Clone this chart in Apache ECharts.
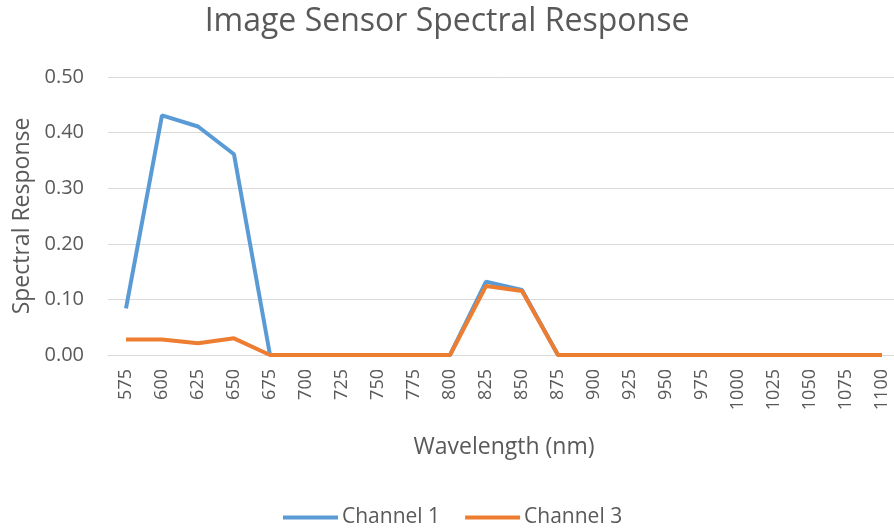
<!DOCTYPE html>
<html>
<head>
<meta charset="utf-8">
<script src="https://cdn.jsdelivr.net/npm/echarts@6/dist/echarts.min.js"></script>
<style>html,body{margin:0;padding:0;background:#fff}#c{width:894px;height:529px}</style>
</head>
<body>
<div id="c"></div>
<script>
var wavelengths = ['575','600','625','650','675','700','725','750','775','800','825','850','875','900','925','950','975','1000','1025','1050','1075','1100'];
var channel1 = [0.084,0.431,0.411,0.361,0,0,0,0,0,0,0.132,0.117,0,0,0,0,0,0,0,0,0,0];
var channel3 = [0.028,0.028,0.021,0.030,0,0,0,0,0,0,0.124,0.115,0,0,0,0,0,0,0,0,0,0];
var yTicks = {min:0, max:0.5, interval:0.1};

var font = '"Open Sans", sans-serif';
var chart = echarts.init(document.getElementById('c'), null, {renderer:'canvas'});
chart.setOption({
  animation:false,
  title:{text:'Image Sensor Spectral Response', left:'center', top:1,
    textStyle:{fontFamily:font, fontSize:32, fontWeight:'normal', color:'#595959'}},
  grid:{left:108, right:-6, top:77, bottom:174, containLabel:false, outerBoundsMode:'none'},
  legend:{top:502, left:278, itemWidth:55, itemHeight:4, itemGap:25,
    icon:'rect',
    textStyle:{fontFamily:font, fontSize:21, color:'#595959', padding:[0,0,0,-1]},
    data:['Channel 1','Channel 3']},
  xAxis:{type:'category', data:wavelengths, boundaryGap:true,
    name:'Wavelength (nm)', nameLocation:'middle', nameGap:81,
    nameTextStyle:{fontFamily:font, fontSize:23, color:'#595959'},
    axisLine:{lineStyle:{color:'#D9D9D9', width:1}},
    axisTick:{show:false},
    axisLabel:{rotate:90, interval:0, margin:14, fontFamily:font, fontSize:18, color:'#595959'}},
  yAxis:{type:'value', min:yTicks.min, max:yTicks.max, interval:yTicks.interval,
    name:'Spectral Response', nameLocation:'middle', nameGap:70,
    nameTextStyle:{fontFamily:font, fontSize:23, color:'#595959'},
    axisLine:{show:false}, axisTick:{show:false},
    splitLine:{lineStyle:{color:'#D9D9D9', width:1}},
    axisLabel:{margin:24, fontFamily:font, fontSize:20, color:'#595959',
      formatter:function(v){return v.toFixed(2);}}},
  series:[
    {name:'Channel 1', type:'line', data:channel1, showSymbol:false, symbol:'none',
      lineStyle:{color:'#5B9BD5', width:4}, itemStyle:{color:'#5B9BD5'}},
    {name:'Channel 3', type:'line', data:channel3, showSymbol:false, symbol:'none',
      lineStyle:{color:'#ED7D31', width:4}, itemStyle:{color:'#ED7D31'}}
  ]
});
</script>
</body>
</html>
